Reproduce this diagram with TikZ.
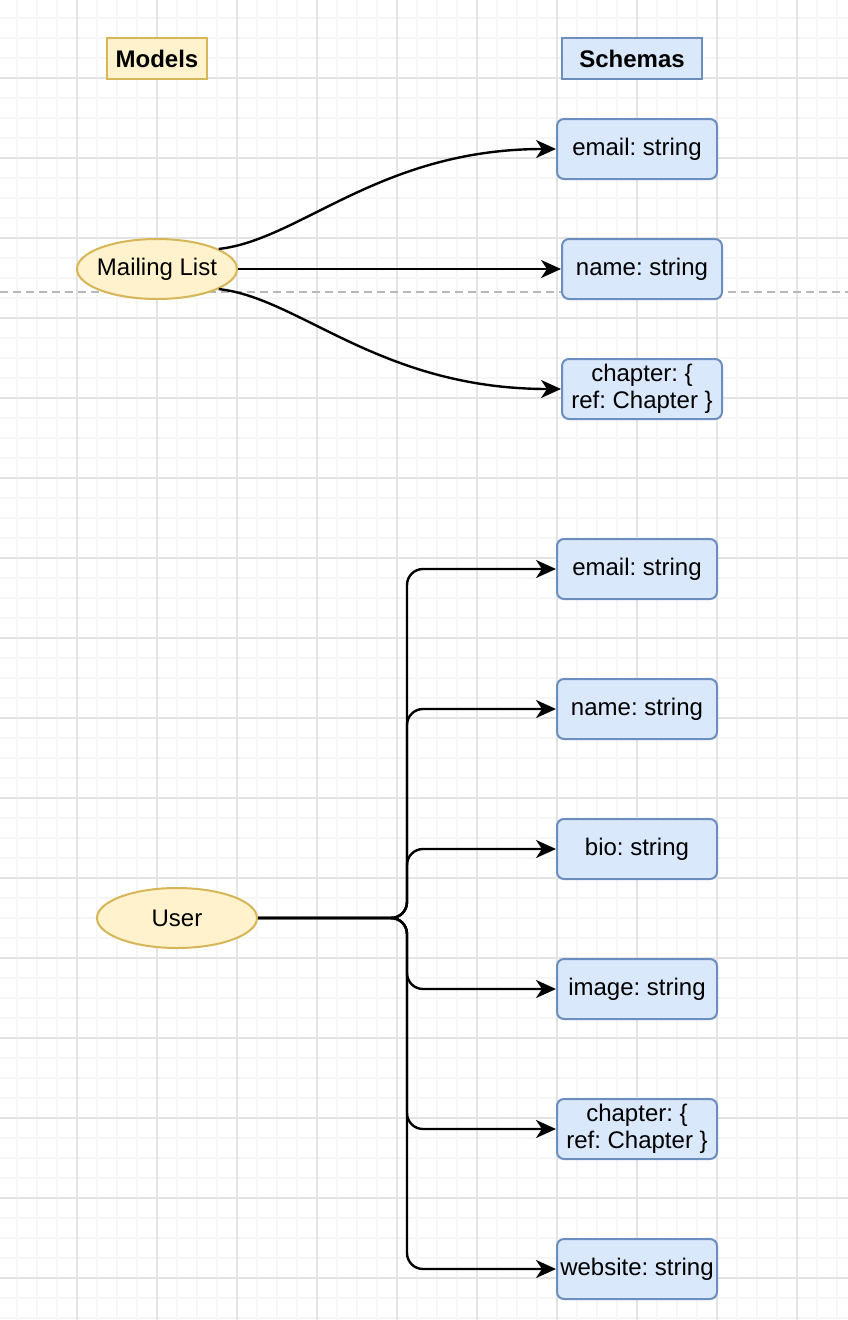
\documentclass[tikz,border=0pt]{standalone}
\usepackage{fontspec}
\setmainfont{Liberation Sans}
\usetikzlibrary{arrows.meta, shapes.geometric}

\begin{document}
\frenchspacing
\begin{tikzpicture}[x=1pt, y=-1pt,
    every node/.style={font=\fontsize{24}{27}\selectfont},
    model/.style={ellipse, draw=modelline, fill=modelfill, line width=2pt,
      minimum width=160pt, minimum height=60pt, inner xsep=-12pt, inner ysep=0pt},
    field/.style={rectangle, rounded corners=7pt, draw=fieldline, fill=fieldfill,
      line width=2pt, minimum width=160pt, minimum height=60pt, inner sep=0pt, align=center},
    heading/.style={rectangle, line width=2pt, minimum height=41pt, inner sep=0pt,
      font=\fontsize{24}{27}\selectfont\bfseries},
    link/.style={-{Stealth[length=20pt, width=18pt, inset=6pt]}, line width=2.4pt, black},
    minorgrid/.style={line width=1.3pt, gridminor},
    majorgrid/.style={line width=1.3pt, gridmajor}]
    % Colors
    \definecolor{modelfill}{HTML}{FFF2CC}
    \definecolor{modelline}{HTML}{D6B656}
    \definecolor{fieldfill}{HTML}{DAE8FC}
    \definecolor{fieldline}{HTML}{6C8EBF}
    \definecolor{gridminor}{HTML}{F6F6F6}
    \definecolor{gridmajor}{HTML}{E4E4E4}
    \definecolor{splitline}{HTML}{B8B8B8}

    % Canvas
    \useasboundingbox (0,0) rectangle (848,1320);
    \fill[white] (0,0) rectangle (848,1320);

    % Grid
    \foreach \gx in {17,37,...,837} \draw[minorgrid] (\gx,0) -- (\gx,1320);
    \foreach \gy in {18,38,...,1318} \draw[minorgrid] (0,\gy) -- (848,\gy);
    \foreach \gx in {77,157,...,797} \draw[majorgrid] (\gx,0) -- (\gx,1320);
    \foreach \gy in {78,158,...,1278} \draw[majorgrid] (0,\gy) -- (848,\gy);

    % Divider
    \draw[splitline, line width=2pt, dash pattern=on 8pt off 5pt] (0,292) -- (848,292);

    % Headings
    \node[heading, draw=modelline, fill=modelfill, minimum width=100pt] (models) at (157,58.5) {Models};
    \node[heading, draw=fieldline, fill=fieldfill, minimum width=140pt] (schemas) at (632,58.5) {Schemas};

    % Mailing List model
    \node[model] (mailing) at (157,269) {Mailing List};
    \node[field] (mlemail) at (637,149) {email: string};
    \node[field] (mlname) at (642,269) {name: string};
    \node[field] (mlchapter) at (642,389) {chapter: \{\\ref: Chapter \}};

    \draw[link] (mailing.18) .. controls (300,240) and (380,149) .. (mlemail.west);
    \draw[link] (mailing.east) -- (mlname.west);
    \draw[link] (mailing.-18) .. controls (300,298) and (380,389) .. (mlchapter.west);

    % User model
    \node[model] (user) at (177,918) {User};
    \node[field] (uemail) at (637,569) {email: string};
    \node[field] (uname) at (637,709) {name: string};
    \node[field] (ubio) at (637,849) {bio: string};
    \node[field] (uimage) at (637,989) {image: string};
    \node[field] (uchapter) at (637,1129) {chapter: \{\\ref: Chapter \}};
    \node[field] (uwebsite) at (637,1269) {website: string};

    \coordinate (hub) at (407,918);
    \foreach \f in {uemail,uname,ubio,uimage,uchapter,uwebsite}
        \draw[link, rounded corners=16pt] (user.east) -- (hub) |- (\f.west);
\end{tikzpicture}
\end{document}
